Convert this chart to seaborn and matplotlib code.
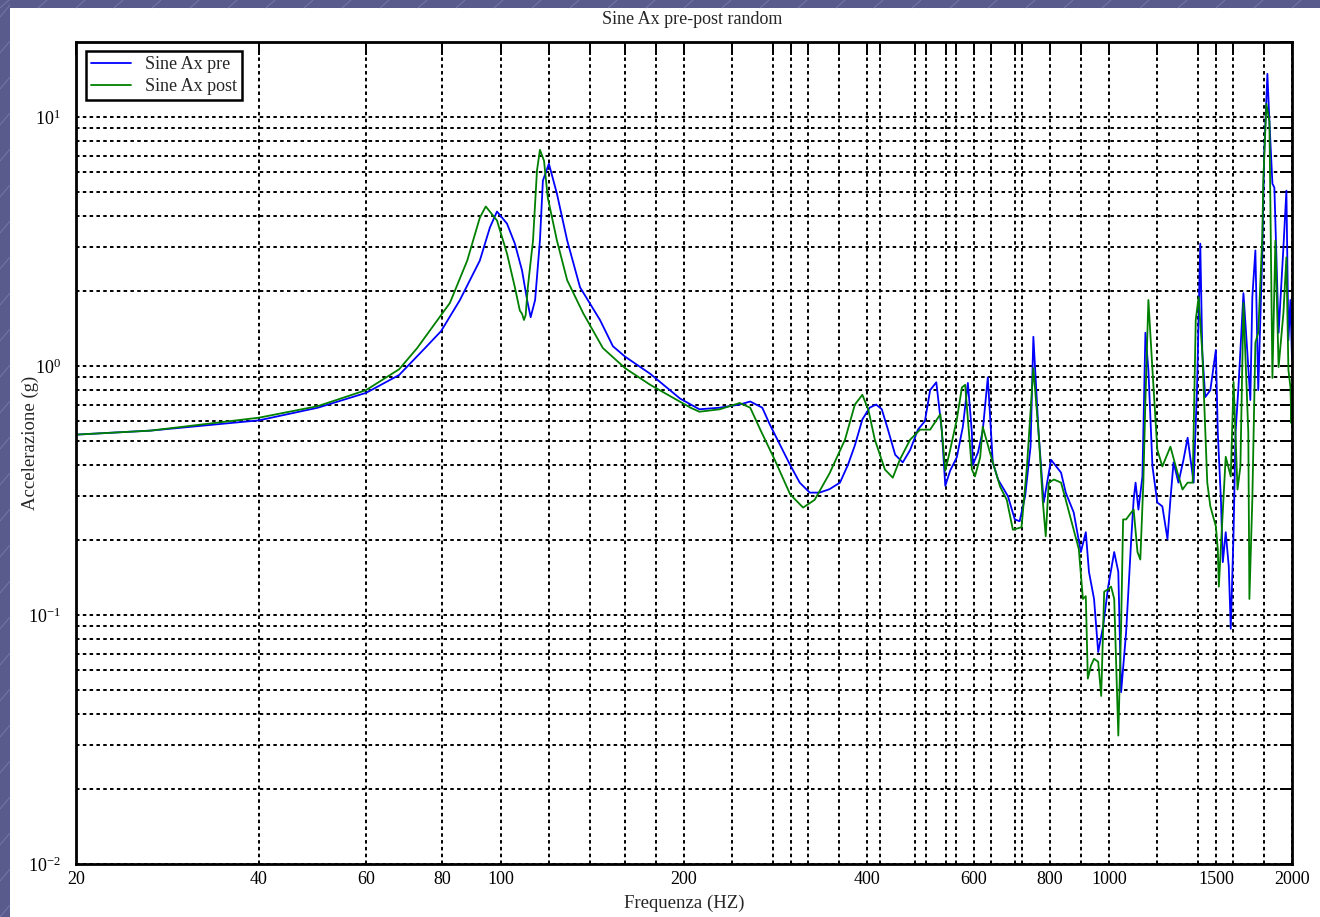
import numpy as np
import pandas as pd
import matplotlib
matplotlib.use("Agg")
import matplotlib.pyplot as plt
import matplotlib.patches as mpatches
from matplotlib.ticker import FixedLocator, FixedFormatter, LogLocator, NullFormatter
import seaborn as sns

# ---------------- data ----------------
pre_freq = [20, 26.5, 40, 50, 60, 68, 75, 79.7, 85.6, 92.3, 95.9, 98.5, 102.3, 105.4, 108.3,
            110.4, 111.9, 113.8, 115.9, 117.2, 119.9, 123.6, 128.5, 134.9, 145.5, 152.8, 160,
            176, 197, 212, 229, 247, 257, 269, 277, 288, 299, 310, 322, 334, 347, 361, 372,
            382, 393, 404, 414, 423, 433, 445, 458, 471, 485, 498, 508, 520, 531, 538, 548,
            562, 575, 586, 595, 597, 609, 620, 632, 644, 657, 682, 700, 713, 728, 743, 751,
            766, 781, 803, 834, 849, 875, 899, 916, 927, 945, 960, 978, 997, 1020, 1036, 1047,
            1067, 1088, 1098, 1106, 1118, 1135, 1148, 1161, 1179, 1201, 1224, 1248, 1262, 1277,
            1301, 1326, 1347, 1362, 1378, 1396, 1413, 1424, 1440, 1468, 1499, 1510, 1528, 1539,
            1556, 1574, 1586, 1603, 1615, 1633, 1664, 1689, 1708, 1721, 1741, 1760, 1787, 1800,
            1822, 1836, 1857, 1871, 1901, 1936, 1958, 1973, 1988, 2000]
pre_acc = [0.53, 0.55, 0.605, 0.68, 0.78, 0.92, 1.18, 1.38, 1.84, 2.65, 3.60, 4.17, 3.73, 3.10, 2.42,
           1.84, 1.57, 1.84, 3.19, 5.55, 6.49, 4.92, 3.19, 2.07, 1.53, 1.20, 1.09,
           0.93, 0.74, 0.67, 0.68, 0.70, 0.72, 0.68, 0.58, 0.48, 0.40, 0.34, 0.31, 0.31, 0.32, 0.34, 0.40,
           0.48, 0.61, 0.68, 0.70, 0.67, 0.555, 0.44, 0.41, 0.46, 0.555, 0.60, 0.80, 0.86, 0.55, 0.33, 0.38,
           0.43, 0.57, 0.855, 0.54, 0.40, 0.45, 0.55, 0.90, 0.41, 0.35, 0.30, 0.242, 0.238, 0.30, 0.474, 1.31,
           0.54, 0.283, 0.42, 0.373, 0.31, 0.258, 0.179, 0.215, 0.149, 0.116, 0.071, 0.090, 0.130, 0.179, 0.149, 0.049,
           0.085, 0.202, 0.291, 0.34, 0.265, 0.36, 1.36, 0.964, 0.395, 0.283, 0.273, 0.202, 0.291, 0.41,
           0.34, 0.42, 0.515, 0.42, 0.34, 0.824, 3.10, 1.13, 0.75, 0.80, 1.16, 0.54, 0.29, 0.163,
           0.215, 0.157, 0.088, 0.215, 0.54, 0.824, 1.96, 1.13, 0.73, 1.89, 2.91, 0.80, 2.83, 7.1,
           14.9, 9.6, 5.4, 5.2, 1.36, 2.99, 5.06, 1.27, 1.84, 1.06]

post_freq = [20, 26.5, 40, 50, 60, 68, 72.8, 82.4, 88, 92.3, 94.4, 98.5, 102.3, 105.4, 107.4,
             108.3, 109.1, 109.8, 110.7, 112.9, 114.6, 115.9, 117.7, 119.4, 123.6, 128.5, 136.5,
             147.1, 160, 176, 205, 212, 229, 247, 257, 267, 282, 299, 314, 328, 347, 368, 382,
             393, 402, 412, 428, 441, 453, 471, 489, 508, 528, 538, 548, 562, 573, 580, 595,
             602, 614, 620, 637, 662, 679, 695, 718, 733, 751, 766, 778, 787, 796, 812, 834,
             849, 872, 892, 906, 916, 923, 934, 945, 960, 971, 982, 997, 1008, 1020, 1036, 1047,
             1055, 1067, 1088, 1098, 1114, 1126, 1139, 1148, 1161, 1179, 1201, 1224, 1262, 1296,
             1321, 1347, 1373, 1389, 1404, 1424, 1451, 1468, 1499, 1510, 1516, 1528, 1556, 1586,
             1603, 1627, 1645, 1664, 1695, 1702, 1721, 1741, 1760, 1787, 1794, 1815, 1836, 1857,
             1878, 1901, 1936, 1958, 1973, 1988, 1995, 2000]
post_acc = [0.53, 0.55, 0.62, 0.69, 0.80, 0.97, 1.18, 1.79, 2.65, 3.94, 4.37, 3.84, 2.83, 2.07, 1.67,
            1.62, 1.53, 1.60, 2.07, 3.19, 6.08, 7.38, 6.67, 4.74, 3.19, 2.21, 1.63,
            1.18, 0.98, 0.84, 0.68, 0.655, 0.67, 0.71, 0.68, 0.555, 0.42, 0.305, 0.27, 0.29, 0.37, 0.506, 0.70,
            0.766, 0.667, 0.506, 0.384, 0.356, 0.421, 0.506, 0.555, 0.555, 0.64, 0.38, 0.46, 0.61, 0.82, 0.84, 0.384,
            0.36, 0.43, 0.57, 0.45, 0.328, 0.29, 0.22, 0.225, 0.395, 0.98, 0.54, 0.29, 0.207, 0.34, 0.35, 0.34,
            0.29, 0.227, 0.184, 0.116, 0.119, 0.0555, 0.0626, 0.0667, 0.0649, 0.0473, 0.124, 0.127, 0.130, 0.116, 0.0328, 0.090,
            0.242, 0.242, 0.258, 0.265, 0.179, 0.167, 0.34, 0.73, 1.84, 0.964, 0.461, 0.395, 0.474, 0.373,
            0.319, 0.34, 0.34, 1.53, 1.89, 1.13, 0.34, 0.273, 0.227, 0.184, 0.130, 0.189, 0.432, 0.36,
            0.863, 0.319, 0.395, 1.79, 0.54, 0.116, 0.291, 1.24, 1.36, 3.28, 5.55, 11.3, 9.6, 0.895,
            3.19, 0.99, 1.63, 2.73, 0.964, 0.824, 0.59, 0.73]

series_names = ["Sine Ax pre", "Sine Ax post"]
series_colors = ["#0000ff", "#008000"]

x_grid_ticks = [40, 60, 80, 100, 120, 140, 160, 180, 200, 240, 280, 300, 320, 360, 400, 420,
                480, 500, 540, 560, 600, 640, 700, 720, 800, 900, 1000, 1200, 1400, 1500,
                1600, 1800]
x_label_ticks = [20, 40, 60, 80, 100, 200, 400, 600, 800, 1000, 1500, 2000]
y_major_ticks = [0.01, 0.1, 1, 10]
y_major_labels = [r"$\mathregular{10^{-2}}$", r"$\mathregular{10^{-1}}$",
                  r"$\mathregular{10^{0}}$", r"$\mathregular{10^{1}}$"]

title_text = "Sine Ax pre-post random"
xlabel_text = "Frequenza (HZ)"
ylabel_text = "Accelerazione (g)"

# ---------------- build table ----------------
df = pd.concat([
    pd.DataFrame({"f": pre_freq, "a": pre_acc, "serie": series_names[0]}),
    pd.DataFrame({"f": post_freq, "a": post_acc, "serie": series_names[1]}),
], ignore_index=True)

# ---------------- style ----------------
sns.set_style("white")
plt.rcParams["font.family"] = ["Liberation Serif", "DejaVu Serif"]
plt.rcParams["mathtext.fontset"] = "custom"
plt.rcParams["mathtext.rm"] = "Liberation Serif"

W, H = 1320, 917
fig = plt.figure(figsize=(W / 100, H / 100), dpi=100)
fig.patch.set_facecolor("#585b8c")
# white slide panel
fig.patches.append(mpatches.Rectangle((10 / W, 0), 1 - 10 / W, 1 - 8 / H,
                                      transform=fig.transFigure, facecolor="white",
                                      edgecolor="none", zorder=-10))
# faint diagonal streaks of the slide background
for k in range(-2, 40):
    x0 = k * 38
    fig.add_artist(plt.Line2D([x0 / W, (x0 + 9) / W], [1 - 8 / H, 1], transform=fig.transFigure,
                              color="#8f93bf", lw=0.6, alpha=0.6, zorder=-5))
for k in range(0, 30):
    y0 = k * 36
    fig.add_artist(plt.Line2D([0, 10 / W], [y0 / H, (y0 + 12) / H], transform=fig.transFigure,
                              color="#8f93bf", lw=0.6, alpha=0.6, zorder=-5))

AX_L, AX_R, AX_T, AX_B = 76, 1292, 42, 864
ax = fig.add_axes([AX_L / W, (H - AX_B) / H, (AX_R - AX_L) / W, (AX_B - AX_T) / H])
ax.set_zorder(1)
ax.set_facecolor("white")

for name, col in zip(series_names, series_colors):
    sub = df[df["serie"] == name]
    sns.lineplot(data=sub, x="f", y="a", color=col, lw=1.3, ax=ax,
                 sort=False, estimator=None, label=name)

ax.set_xscale("log")
ax.set_yscale("log")
ax.set_xlim(20, 2000)
ax.set_ylim(0.01, 20)

all_x = sorted(set(x_grid_ticks + x_label_ticks))
ax.xaxis.set_major_locator(FixedLocator(all_x))
ax.xaxis.set_major_formatter(FixedFormatter([str(v) if v in x_label_ticks else "" for v in all_x]))
ax.xaxis.set_minor_locator(FixedLocator([]))
ax.yaxis.set_major_locator(FixedLocator(y_major_ticks))
ax.yaxis.set_major_formatter(FixedFormatter(y_major_labels))
ax.yaxis.set_minor_locator(LogLocator(base=10, subs=np.arange(2, 10)))
ax.yaxis.set_minor_formatter(NullFormatter())

grid_kw = dict(color="black", linestyle=(0, (1.8, 1.7)), linewidth=1.4)
ax.grid(True, which="major", axis="both", **grid_kw)
ax.grid(True, which="minor", axis="y", **grid_kw)
ax.set_axisbelow(True)

ax.tick_params(which="both", direction="in", length=9, width=1.4, top=True, right=True,
               labelsize=13, colors="black")
ax.tick_params(axis="x", pad=5)
ax.tick_params(axis="y", pad=11)
for s in ax.spines.values():
    s.set_linewidth(2.0)
    s.set_color("black")

AW, AH = AX_R - AX_L, AX_B - AX_T
ax.text(0.5 + 8 / AW, 1 + 22 / AH, title_text, transform=ax.transAxes,
        ha="center", va="center", fontsize=13)
ax.set_xlabel(xlabel_text, fontsize=13.5, va="center")
ax.xaxis.set_label_coords(0.5, -(903 - AX_B) / AH)
ax.set_ylabel(ylabel_text, fontsize=13.5, va="center")
ax.yaxis.set_label_coords(-(AX_L - 30) / AW, (AX_B - 443) / AH)

leg = ax.legend(loc="upper left", bbox_to_anchor=(10 / AW, 1 - 9 / AH), frameon=True,
                fancybox=False, fontsize=13, handlelength=2.2, borderpad=0.3,
                labelspacing=0.25, handletextpad=0.75, borderaxespad=0.0)
leg.get_frame().set_edgecolor("black")
leg.get_frame().set_linewidth(1.8)
leg.get_frame().set_alpha(1)

fig.savefig("out.png", dpi=100, facecolor=fig.get_facecolor())
